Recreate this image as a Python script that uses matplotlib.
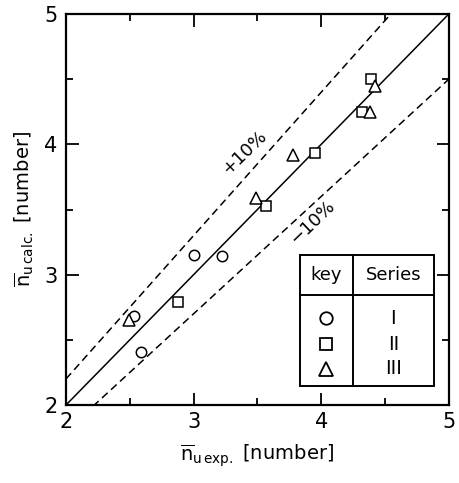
"""
Calculated vs experimental mean number (n_u), with +/-10% band.
"""

import numpy as np
import matplotlib.pyplot as plt
from matplotlib.patches import Rectangle

# ─── Data ─────────────────────────────────────────────────────────────────────

series_names = ["I", "II", "III"]
series_markers = ["o", "s", "^"]

exp_I = [2.59, 3.00, 3.22, 2.53]
calc_I = [2.41, 3.15, 3.14, 2.68]

exp_II = [2.88, 3.57, 3.95, 4.32, 4.39]
calc_II = [2.79, 3.53, 3.93, 4.25, 4.50]

exp_III = [2.49, 3.49, 3.78, 4.38, 4.42]
calc_III = [2.65, 3.59, 3.92, 4.25, 4.45]

band = 0.10
x_ticks = [2, 3, 4, 5]
y_ticks = [2, 3, 4, 5]

# ─── Figure ───────────────────────────────────────────────────────────────────

plt.rcParams["font.family"] = ["DejaVu Sans"]
plt.rcParams["mathtext.fontset"] = "dejavusans"

fig = plt.figure(figsize=(4.59, 4.83), dpi=100)
ax = fig.add_axes([0.1438, 0.1615, 0.834, 0.8095])

xs = np.array([2.0, 5.0])
ax.plot(xs, xs, color="black", lw=1.1)
ax.plot(xs, xs * (1 + band), color="black", lw=1.1, linestyle=(0, (5, 3)))
ax.plot(xs, xs * (1 - band), color="black", lw=1.1, linestyle=(0, (5, 3)))

for xv, yv, m in zip([exp_I, exp_II, exp_III], [calc_I, calc_II, calc_III], series_markers):
    ax.plot(xv, yv, linestyle="none", marker=m, markersize=8.5 if m == "^" else 7.5,
            markerfacecolor="white", markeredgecolor="black", markeredgewidth=1.1)

# band labels sit on the dashed lines, with a white backing to break the dash
ax.text(3.40, 3.94, "+10%", rotation=44, fontsize=13, ha="center", va="center",
        bbox=dict(facecolor="white", edgecolor="none", pad=0.5))
ax.text(3.93, 3.40, "\u221210%", rotation=44, fontsize=13, ha="center", va="center",
        bbox=dict(facecolor="white", edgecolor="none", pad=0.5))

ax.set_xlim(2, 5)
ax.set_ylim(2, 5)
ax.set_xticks(x_ticks)
ax.set_yticks(y_ticks)
ax.set_xticks(np.arange(2.5, 5, 1.0), minor=True)
ax.set_yticks(np.arange(2.5, 5, 1.0), minor=True)
ax.tick_params(which="both", direction="in", top=True, right=True, width=1.3,
               labelsize=15)
ax.tick_params(which="major", length=9)
ax.tick_params(which="minor", length=5)
ax.tick_params(axis="x", pad=5)
ax.tick_params(axis="y", pad=6)
for sp in ax.spines.values():
    sp.set_linewidth(1.6)

ax.set_xlabel(r"$\overline{\mathrm{n}}_{\mathrm{u\,exp.}}$ [number]", fontsize=14, labelpad=8)
ax.set_ylabel(r"$\overline{\mathrm{n}}_{\mathrm{u\,calc.}}$ [number]", fontsize=14, labelpad=6)

# ─── Key table (axes fraction) ────────────────────────────────────────────────

x0, x1, xdiv = 0.611, 0.961, 0.749
y0, y1, yhead = 0.049, 0.384, 0.281
ax.add_patch(Rectangle((x0, y0), x1 - x0, y1 - y0, transform=ax.transAxes,
                       fill=True, facecolor="white", edgecolor="black", lw=1.4, zorder=5))
ax.plot([x0, x1], [yhead, yhead], transform=ax.transAxes, color="black", lw=1.4, zorder=6)
ax.plot([xdiv, xdiv], [y0, y1], transform=ax.transAxes, color="black", lw=1.4, zorder=6)

key_x = (x0 + xdiv) / 2
ser_x = (xdiv + x1) / 2
ax.text(key_x, 0.332, "key", transform=ax.transAxes, fontsize=13, ha="center",
        va="center", zorder=7)
ax.text(ser_x, 0.332, "Series", transform=ax.transAxes, fontsize=13, ha="center",
        va="center", zorder=7)

row_y = [0.2225, 0.156, 0.093]
for ry, m, name in zip(row_y, series_markers, series_names):
    ax.plot([key_x], [ry], transform=ax.transAxes, linestyle="none", marker=m,
            markersize=10 if m == "^" else 9, markerfacecolor="white",
            markeredgecolor="black", markeredgewidth=1.3, zorder=7)
    ax.text(ser_x, ry, name, transform=ax.transAxes, fontsize=14, ha="center",
            va="center", zorder=7)

fig.savefig("out.png", dpi=100)
